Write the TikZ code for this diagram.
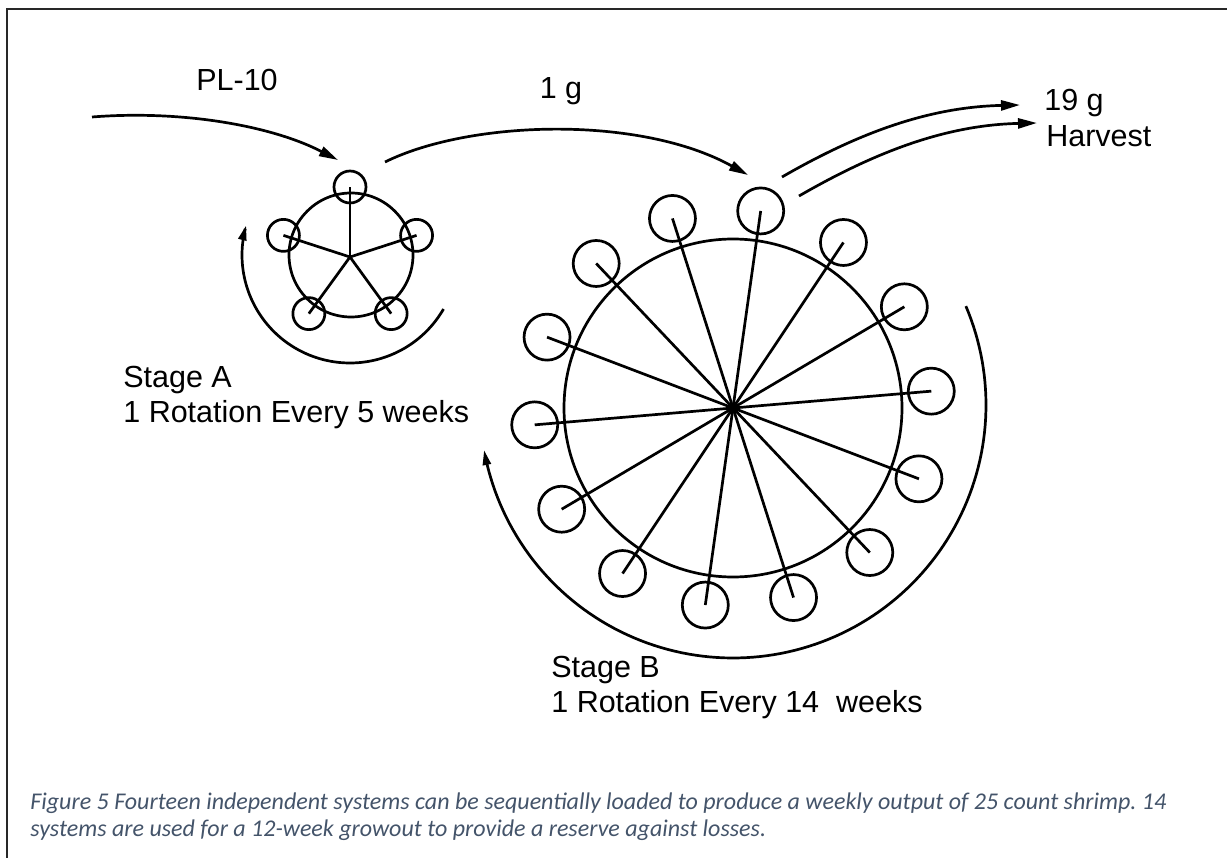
\documentclass[tikz,border=0pt]{standalone}
\usepackage{fontspec}
\setmainfont{Liberation Sans}
\newfontfamily\capfont{Carlito}
\usetikzlibrary{arrows.meta}
\definecolor{capcol}{RGB}{68,84,106}
\definecolor{framecol}{RGB}{40,40,40}
\frenchspacing
\begin{document}
\begin{tikzpicture}[x=1pt,y=-1pt, line width=2.7pt,
  podA/.style={circle, draw, minimum size=32pt, inner sep=0pt},
  podB/.style={circle, draw, minimum size=46pt, inner sep=0pt},
  ring/.style={circle, draw, inner sep=0pt},
  lbl/.style={font=\fontsize{30.5}{36}\selectfont, inner sep=0pt, anchor=base west},
  captxt/.style={font=\capfont\itshape\fontsize{24}{28}\selectfont, text=capcol, inner sep=0pt, anchor=base west},
  arr/.style={-{Triangle[length=19pt,width=10pt]}},
  rotarr/.style={-{Triangle[length=15pt,width=8pt]}}]
\useasboundingbox (0,0) rectangle (1227,858);
% frame
\draw[line width=1.8pt, framecol] (7,858) -- (7,9) -- (1227,9);

% Stage A
\coordinate (hubA) at (350,257);
\node[ring, minimum size=124pt] (ringA) at (351,255) {};
\foreach \i in {0,...,4} {
  \node[podA] (a\i) at ({350+70*cos(90+72*\i)},{257-70*sin(90+72*\i)}) {};
  \draw (hubA) -- (a\i.center);
}
\draw[rotarr] plot[domain=0:1, samples=90] ({350+108*cos(-30-166*\x)},{255-108*sin(-30-166*\x)});

% Stage B
\coordinate (hubB) at (733,408);
\node[ring, minimum size=338pt] (ringB) at (733,408) {};
\foreach \i in {0,...,13} {
  \node[podB] (b\i) at ({733+199*cos(82+25.714*\i)},{408-199*sin(82+25.714*\i)}) {};
  \draw (hubB) -- (b\i.center);
}
\draw[rotarr] plot[domain=0:1, samples=120] ({733+253*cos(23-193*\x)},{405-253*sin(23-193*\x)});

% flow arrows
\coordinate (inS) at (92,117);
\coordinate (inE) at (338,160);
\draw[arr] (inS) .. controls (180,110) and (270,125) .. (inE);
\coordinate (gS) at (385,162);
\coordinate (gE) at (748,175);
\draw[arr] (gS) .. controls (470,120) and (640,115) .. (gE);
\coordinate (h1S) at (782,177);
\coordinate (h1E) at (1020,105);
\draw[arr] (h1S) .. controls (860,132) and (930,107) .. (h1E);
\coordinate (h2S) at (799,196);
\coordinate (h2E) at (1037,123);
\draw[arr] (h2S) .. controls (877,151) and (947,125) .. (h2E);

% labels
\node[lbl, anchor=base] (pl) at (237,91) {PL-10};
\node[lbl, anchor=base] (oneg) at (561,99) {1 g};
\node[lbl] (nineg) at (1043,111) {19 g};
\node[lbl] (harv) at (1045,147) {Harvest};
\node[lbl] (stA) at (122,388) {Stage A};
\node[lbl] (rotA) at (122,423) {1 Rotation Every 5 weeks};
\node[lbl] (stB) at (550,677) {Stage B};
\node[lbl] (rotB) at (550,712) {1 Rotation Every 14 \ weeks};

% caption
\node[captxt] (cap1) at (29,809) {Figure 5 Fourteen independent systems can be sequentially loaded to produce a weekly output of 25 count shrimp. 14};
\node[captxt] (cap2) at (29,836) {systems are used for a 12-week growout to provide a reserve against losses.};
\end{tikzpicture}
\end{document}
